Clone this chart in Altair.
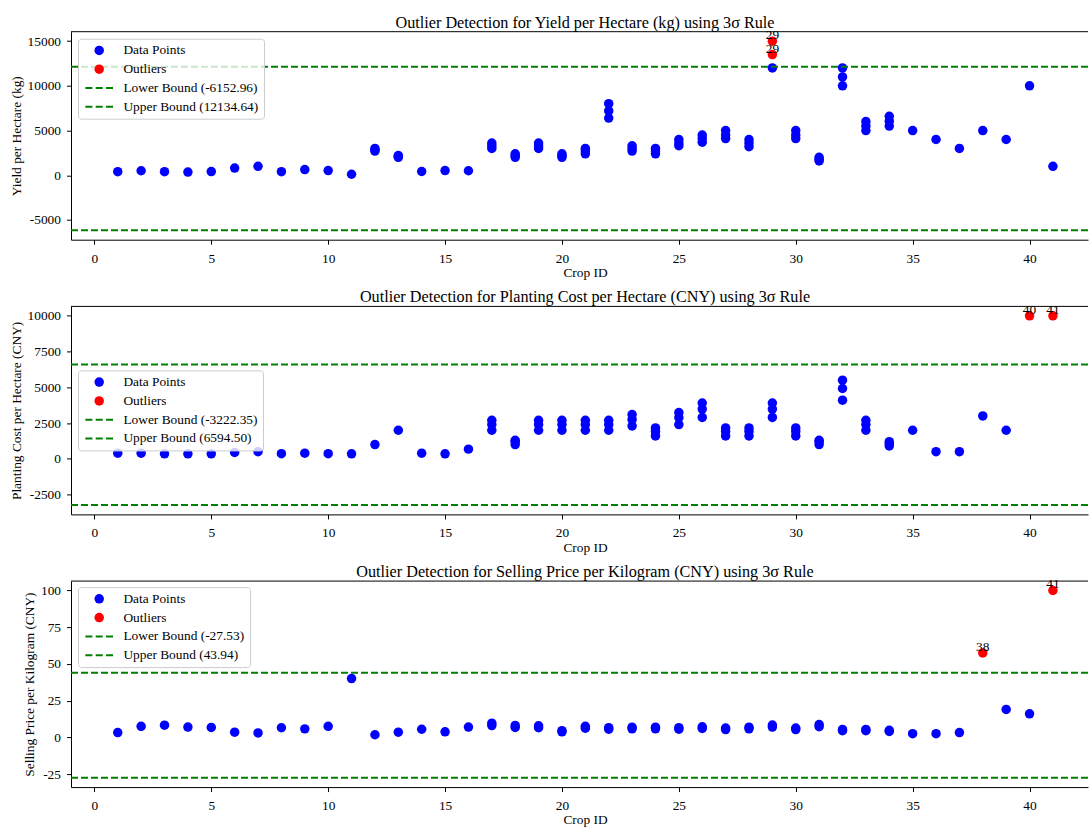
import altair as alt
import numpy as np
import pandas as pd

FONT = "Liberation Serif"
TEXT_SIZE = 13.4
TITLE_SIZE = 16.2

# --- crop ids (one entry per row of the statistics table) ---
vegetable_ids = list(range(17, 35))
ids_yield = (list(range(1, 12)) + [12, 12, 12, 13, 13, 13] + [14, 15, 16]
             + [i for i in vegetable_ids for _ in range(3)] + list(range(35, 42)))
ids_cost = list(range(1, 17)) + [i for i in vegetable_ids for _ in range(3)] + list(range(35, 42))
ids_price = list(range(1, 17)) + [i for i in vegetable_ids for _ in range(2)] + list(range(35, 42))

# --- yield per hectare (kg) ---
yield_kg = [
    400, 500, 400, 350, 415, 800, 1000, 400, 630, 525, 110,
    3000, 2850, 2700, 2200, 2100, 2000, 420, 525, 500,
    3000, 3300, 3600, 2000, 2200, 2400, 3000, 3300, 3600, 2000, 2200, 2400,
    2400, 2700, 3000, 6400, 7200, 8000, 2700, 3000, 3300, 2400, 2700, 3000,
    3300, 3600, 4000, 3700, 4100, 4500, 4100, 4500, 5000, 3200, 3600, 4000,
    12000, 13500, 15000, 4100, 4500, 5000, 1600, 1800, 2000, 10000, 11000, 12000,
    5000, 5500, 6000, 5500, 6050, 6600,
    5000, 4000, 3000, 5000, 4000, 10000, 1000,
]

# --- planting cost per hectare (CNY) ---
cost_cny = [
    400, 400, 350, 350, 350, 450, 500, 360, 400, 360, 350, 1000, 2000, 400, 350, 680,
    2000, 2400, 2700, 1000, 1200, 1300, 2000, 2400, 2700, 2000, 2400, 2700,
    2000, 2400, 2700, 2000, 2400, 2700, 2300, 2760, 3100, 1600, 1920, 2160,
    2400, 2880, 3240, 2900, 3480, 3900, 1600, 1920, 2160, 1600, 1920, 2160,
    2900, 3480, 3900, 1600, 1920, 2160, 1000, 1200, 1300, 4100, 4920, 5500,
    2000, 2400, 2700, 900, 1050, 1200,
    2000, 500, 500, 3000, 2000, 10000, 10000,
]

# --- selling price per kilogram (CNY) ---
price_cny = [
    3.25, 7.5, 8.25, 7.0, 6.75, 3.5, 3.0, 6.5, 5.75, 7.5, 40.0, 1.75, 3.5, 5.5, 3.75, 7.0,
    8.0, 9.6, 6.75, 8.1, 6.5, 7.8, 3.75, 4.5, 6.25, 7.5, 5.5, 6.6,
    5.75, 6.9, 5.75, 6.9, 5.5, 6.6, 6.0, 7.2, 5.25, 6.3, 5.75, 6.9,
    7.0, 8.4, 5.25, 6.3, 7.25, 8.7, 4.5, 5.4, 4.5, 5.4, 4.0, 4.8,
    2.5, 2.5, 3.25, 57.5, 19.0, 16.0, 100.0,
]

# --- 3-sigma bounds ---
yield_bounds = [-6152.96, 12134.64]
cost_bounds = [-3222.35, 6594.50]
price_bounds = [-27.53, 43.94]

x_ticks = [0, 5, 10, 15, 20, 25, 30, 35, 40]
series_colors = ["blue", "red", "green", "green"]
# three short bars used as the dashed-line legend symbol
DASH_SYMBOL = ("M-2.92,-0.21H-1.44V0.21H-2.92Z "
               "M-0.74,-0.21H0.74V0.21H-0.74Z "
               "M1.44,-0.21H2.92V0.21H1.44Z")


def panel(ids, vals, bounds, title, ytitle, ydomain, yticks, legend_y, height):
    lower, upper = bounds
    labels = ["Data Points", "Outliers",
              f"Lower Bound ({lower:.2f})", f"Upper Bound ({upper:.2f})"]
    df = pd.DataFrame({"crop_id": ids, "value": vals})
    is_out = (df["value"] > upper) | (df["value"] < lower)
    df["series"] = np.where(is_out, "Outliers", "Data Points")
    df = df.sort_values("series", kind="stable")
    outliers = df[df["series"] == "Outliers"]
    bound_df = pd.DataFrame({"value": [lower, upper]})

    legend = alt.Legend(
        title=None, orient="none", legendX=7, legendY=legend_y, direction="vertical",
        padding=5, symbolOffset=9.5, labelOffset=17.5, rowPadding=3.8,
        fillColor="rgba(255,255,255,0.8)", strokeColor="#cccccc", cornerRadius=3,
        labelFont=FONT, labelFontSize=TEXT_SIZE, labelColor="black", labelLimit=400,
        symbolSize=90, symbolStrokeWidth=0, symbolOpacity=1,
    )

    def xenc():
        return alt.X("crop_id:Q", title="Crop ID",
                     scale=alt.Scale(domain=[-1, 42.5], nice=False, zero=False),
                     axis=alt.Axis(values=x_ticks, titleX=514))

    def yenc():
        return alt.Y("value:Q", title=ytitle,
                     scale=alt.Scale(domain=ydomain, nice=False, zero=False),
                     axis=alt.Axis(values=yticks, labelExpr="'' + datum.value"))

    points = alt.Chart(df).mark_point(filled=True, size=90, opacity=1).encode(
        x=xenc(), y=yenc(),
        color=alt.Color("series:N", scale=alt.Scale(domain=labels, range=series_colors),
                        legend=legend),
        shape=alt.Shape("series:N",
                        scale=alt.Scale(domain=labels,
                                        range=["circle", "circle", DASH_SYMBOL, DASH_SYMBOL]),
                        legend=legend),
    )
    lines = alt.Chart(bound_df).mark_rule(
        color="green", strokeWidth=2, strokeDash=[7, 3]
    ).encode(y=yenc())
    ids_text = alt.Chart(outliers).mark_text(
        font=FONT, fontSize=TEXT_SIZE, baseline="alphabetic", dy=-2, color="black"
    ).encode(x=xenc(), y=yenc(), text="crop_id:Q")
    top_edge = alt.Chart(bound_df.head(1)).mark_rule(color="black", strokeWidth=1).encode(
        y=alt.value(0)
    )

    return alt.layer(points, lines, ids_text, top_edge).properties(
        width=1017, height=height,
        title=alt.TitleParams(text=title, font=FONT, fontSize=TITLE_SIZE, fontWeight="normal",
                              color="black", dx=5.5, offset=-2.7),
    )


p1 = panel(ids_yield, yield_kg, yield_bounds,
           "Outlier Detection for Yield per Hectare (kg) using 3σ Rule",
           "Yield per Hectare (kg)", [-7211, 16058],
           [-5000, 0, 5000, 10000, 15000], 7, 208)
p2 = panel(ids_cost, cost_cny, cost_bounds,
           "Outlier Detection for Planting Cost per Hectare (CNY) using 3σ Rule",
           "Planting Cost per Hectare (CNY)", [-3883.5, 10661],
           [-2500, 0, 2500, 5000, 7500, 10000], 64, 208)
p3 = panel(ids_price, price_cny, price_bounds,
           "Outlier Detection for Selling Price per Kilogram (CNY) using 3σ Rule",
           "Selling Price per Kilogram (CNY)", [-33.9, 106.4],
           [-25, 0, 25, 50, 75, 100], 6, 206)

chart = (
    alt.vconcat(p1, p2, p3, spacing=8.7)
    .resolve_scale(color="independent", shape="independent")
    .resolve_legend(color="independent", shape="independent")
    .properties(padding={"left": 9, "top": 13.7, "right": 0, "bottom": 0})
    .configure_view(stroke=None)
    .configure_axis(
        labelFont=FONT, labelFontSize=TEXT_SIZE, titleFont=FONT, titleFontSize=TEXT_SIZE,
        titleFontWeight="normal", labelColor="black", titleColor="black",
        tickColor="black", domainColor="black", tickSize=4.5, tickWidth=1,
        domainWidth=1, grid=False, titlePadding=4,
    )
    .configure_axisX(labelPadding=7, titlePadding=1)
    .configure_axisY(labelPadding=6)
)

chart.save("out.html", embed_options={"renderer": "svg", "actions": False})
